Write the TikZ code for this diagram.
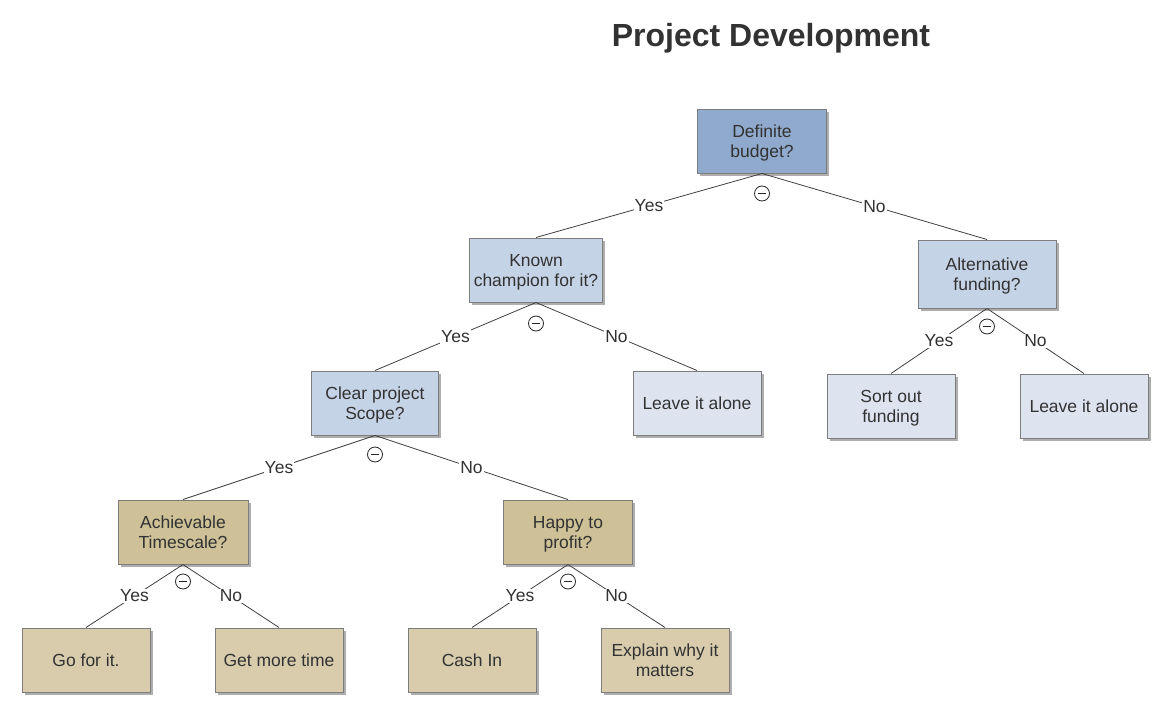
\documentclass[tikz,border=0pt]{standalone}
\usepackage{fontspec}
\setmainfont{Liberation Sans}
\usepackage{xcolor}
\definecolor{rootblue}{RGB}{143,170,204}
\definecolor{midblue}{RGB}{196,211,230}
\definecolor{leafblue}{RGB}{221,228,240}
\definecolor{midtan}{RGB}{206,193,151}
\definecolor{leaftan}{RGB}{216,204,173}
\definecolor{boxline}{RGB}{125,125,125}
\definecolor{textgray}{RGB}{50,50,50}
\usetikzlibrary{positioning,calc,shadows}

\begin{document}
\begin{tikzpicture}[x=1pt, y=-1pt, font=\fontsize{17.5}{20}\selectfont, text=textgray, box/.style = {rectangle, draw=boxline, line width=1pt, align=center, minimum width=128pt, minimum height=64pt, inner sep=2pt, text depth=0pt, drop shadow={shadow xshift=2.5pt, shadow yshift=-2.5pt, fill=black!45, opacity=.7}}, lbl/.style = {fill=white, inner sep=1pt}, link/.style={draw=black!75, line width=0.8pt}, minus/.style={circle, draw=black!85, line width=0.8pt, minimum size=15pt, inner sep=0pt, path picture={\draw[black!85, line width=1pt] ($(path picture bounding box.center)+(-4pt,0)$) -- ($(path picture bounding box.center)+(4pt,0)$);}}]

\useasboundingbox (0,0) rectangle (1176,717);

\node[font=\fontsize{32}{36}\selectfont\bfseries] (title) at (771,38) {Project Development};

% questions
\node[box, fill=rootblue, minimum width=129pt] (root) at (762,141) {Definite\\budget?};
\node[box, fill=midblue, minimum width=133pt] (champ) at (536,270) {Known\\champion for it?};
\node[box, fill=midblue, minimum width=138pt, minimum height=68pt] (altfund) at (987,274) {Alternative\\funding?};
\node[box, fill=midblue, minimum width=127pt] (scope) at (375,403) {Clear project\\Scope?};
\node[box, fill=midtan, minimum width=130pt] (timescale) at (183,532) {Achievable\\Timescale?};
\node[box, fill=midtan, minimum width=129pt] (profit) at (568,532) {Happy to\\profit?};

% answers
\node[box, fill=leafblue] (leave1) at (697,403) {Leave it alone};
\node[box, fill=leafblue] (sortfund) at (891,406) {Sort out\\funding};
\node[box, fill=leafblue] (leave2) at (1084,406) {Leave it alone};
\node[box, fill=leaftan] (gofor) at (86,660) {Go for it.};
\node[box, fill=leaftan] (moretime) at (279,660) {Get more time};
\node[box, fill=leaftan] (cashin) at (472,660) {Cash In};
\node[box, fill=leaftan] (explain) at (665,660) {Explain why it\\matters};

% collapse markers
\node[minus] (m1) at ($(root.south)+(0,20)$) {};
\node[minus] (m2) at ($(champ.south)+(0,21)$) {};
\node[minus] (m3) at ($(altfund.south)+(0,18)$) {};
\node[minus] (m4) at ($(scope.south)+(0,19)$) {};
\node[minus] (m5) at ($(timescale.south)+(0,17)$) {};
\node[minus] (m6) at ($(profit.south)+(0,17)$) {};

\draw[link] (root.south) -- node[lbl] {Yes} (champ.north);
\draw[link] (root.south) -- node[lbl] {No} (altfund.north);
\draw[link] (champ.south) -- node[lbl] {Yes} (scope.north);
\draw[link] (champ.south) -- node[lbl] {No} (leave1.north);
\draw[link] (altfund.south) -- node[lbl] {Yes} (sortfund.north);
\draw[link] (altfund.south) -- node[lbl] {No} (leave2.north);
\draw[link] (scope.south) -- node[lbl] {Yes} (timescale.north);
\draw[link] (scope.south) -- node[lbl] {No} (profit.north);
\draw[link] (timescale.south) -- node[lbl] {Yes} (gofor.north);
\draw[link] (timescale.south) -- node[lbl] {No} (moretime.north);
\draw[link] (profit.south) -- node[lbl] {Yes} (cashin.north);
\draw[link] (profit.south) -- node[lbl] {No} (explain.north);
\end{tikzpicture}
\end{document}
